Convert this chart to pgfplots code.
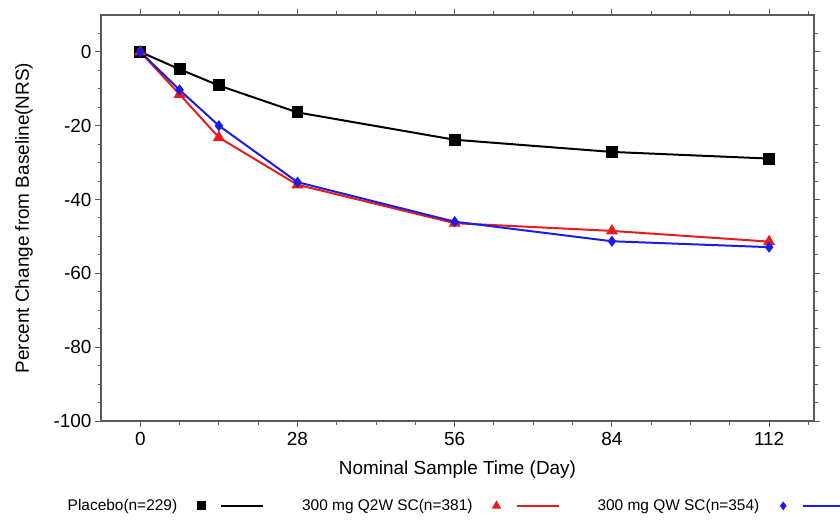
\documentclass[border=0pt]{standalone}
\usepackage{fontspec}
\setmainfont{Liberation Sans}
\usepackage{pgfplots}
\pgfplotsset{compat=1.18}
\definecolor{myred}{RGB}{232,28,28}
\definecolor{myblue}{RGB}{28,28,232}
\definecolor{axgray}{RGB}{90,90,90}
\begin{document}
\begin{tikzpicture}
\useasboundingbox (0,0) rectangle (840bp,523bp);
\begin{axis}[
  at={(101bp,102bp)}, anchor=south west,
  scale only axis, width=713bp, height=406bp,
  xmin=-7, xmax=120, ymin=-100, ymax=10,
  xtick={0,28,56,84,112}, minor xtick={7,14,21,35,42,49,63,70,77,91,98,105,119},
  ytick={-100,-80,-60,-40,-20,0}, minor ytick={-95,-90,-85,-75,-70,-65,-55,-50,-45,-35,-30,-25,-15,-10,-5,5},
  tick align=outside, tick pos=both,
  major tick length=6bp, minor tick length=3.5bp,
  axis line style={axgray, line width=1.3pt},
  every tick/.style={axgray, line width=1pt},
  /pgf/number format/assume math mode=true,
  ticklabel style={font=\fontsize{19}{22}\selectfont},
  xticklabel style={yshift=-2bp},
  label style={font=\fontsize{19}{22}\selectfont},
  xlabel={Nominal Sample Time (Day)},
  ylabel={Percent Change from Baseline(NRS)},
  xlabel style={yshift=-8bp},
  ylabel style={yshift=14bp},
  legend columns=3,
  legend plot pos=right,
  legend style={at={(0.5,-0.209)}, anchor=center, draw=none, fill=none,
    font=\fontsize{15.5}{18}\selectfont,
    /tikz/every even column/.append style={column sep=33bp}},
  legend image code/.code={
    \path (0bp,0bp) (86bp,0bp);
    \draw[#1, mark options={scale=0.7}] plot coordinates {(21bp,0bp)};
    \draw[#1,mark=none] (41bp,0bp) -- (83bp,0bp);
  },
]
\addplot[black, line width=2pt, mark=square*, mark size=5bp, mark options={solid}]
  coordinates {(0,0) (7,-4.7) (14,-9.1) (28,-16.4) (56,-23.8) (84,-27.1) (112,-28.9)};
\addlegendentry{Placebo(n=229)}
\addplot[myred, line width=2pt, mark=triangle*, mark size=5bp]
  coordinates {(0,0) (7,-11.5) (14,-23.2) (28,-36.0) (56,-46.4) (84,-48.5) (112,-51.4)};
\addlegendentry{300 mg Q2W SC(n=381)}
\addplot[myblue, line width=2pt, mark=diamond*, mark size=4bp]
  coordinates {(0,0) (7,-10.3) (14,-20.0) (28,-35.3) (56,-46.0) (84,-51.3) (112,-52.9)};
\addlegendentry{300 mg QW SC(n=354)}
\end{axis}
\end{tikzpicture}
\end{document}
